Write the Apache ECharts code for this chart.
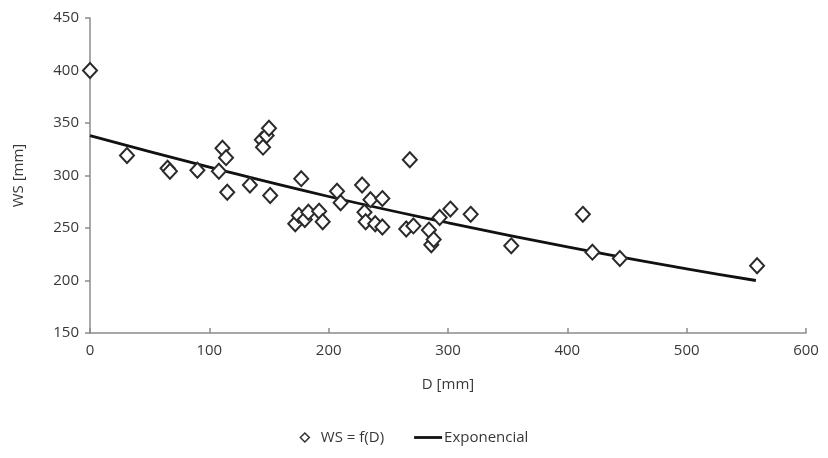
<!DOCTYPE html>
<html>
<head>
<meta charset="utf-8">
<script src="https://cdn.jsdelivr.net/npm/echarts@6/dist/echarts.min.js"></script>
<style>
  html, body { margin: 0; padding: 0; background: #fff; }
  #chart { width: 828px; height: 458px; }
</style>
</head>
<body>
<div id="chart"></div>
<script>
// measured points, WS = f(D)
var dValues = [0, 31, 65, 67, 90, 108, 111, 114, 115, 134, 144, 145, 148, 150, 151,
  172, 175, 177, 180, 183, 192, 195, 207, 210, 228, 230, 231, 235, 239, 245, 245,
  265, 268, 271, 284, 286, 288, 293, 302, 319, 353, 413, 421, 444, 559];
var wsValues = [400, 319, 307, 304, 305, 304, 326, 317, 284, 291, 334, 327, 338, 345, 281,
  254, 262, 297, 258, 265, 266, 256, 285, 274, 291, 265, 256, 277, 254, 278, 251,
  249, 315, 252, 248, 234, 239, 260, 268, 263, 233, 263, 227, 221, 214];

// trend line
var trendD = [0, 100, 200, 300, 400, 500, 558];
var trendWS = [338, 308, 280, 255, 232, 211, 200];

var xTicks = { min: 0, max: 600, interval: 100 };
var yTicks = { min: 150, max: 450, interval: 50 };

var points = dValues.map(function (d, i) { return [d, wsValues[i]]; });
var trend = trendD.map(function (d, i) { return [d, trendWS[i]]; });

var font = 'Open Sans';
var textColor = '#383838';
var axisColor = '#8c8c8c';

var myChart = echarts.init(document.getElementById('chart'));
var option = {
  animation: false,
  backgroundColor: '#fff',
  grid: { left: 90, right: 22, top: 18, bottom: 125 },
  textStyle: { fontFamily: font },
  xAxis: {
    type: 'value',
    min: xTicks.min, max: xTicks.max, interval: xTicks.interval,
    name: 'D [mm]',
    nameLocation: 'middle',
    nameGap: 44,
    nameTextStyle: { color: textColor, fontSize: 15, fontFamily: font },
    axisLine: { lineStyle: { color: axisColor, width: 1.5 } },
    axisTick: { show: true, inside: true, length: 5, lineStyle: { color: axisColor, width: 1.5 } },
    axisLabel: { color: textColor, fontSize: 15, margin: 10 },
    splitLine: { show: false }
  },
  yAxis: {
    type: 'value',
    min: yTicks.min, max: yTicks.max, interval: yTicks.interval,
    name: 'WS [mm]',
    nameLocation: 'middle',
    nameGap: 64,
    nameRotate: 90,
    nameTextStyle: { color: textColor, fontSize: 15, fontFamily: font },
    axisLine: { show: true, lineStyle: { color: axisColor, width: 1.5 } },
    axisTick: { show: true, length: 5, lineStyle: { color: axisColor, width: 1.5 } },
    axisLabel: { color: textColor, fontSize: 15, margin: 11 },
    splitLine: { show: false }
  },
  legend: {
    bottom: 8,
    left: 'center',
    itemGap: 30,
    textStyle: { color: textColor, fontSize: 15, fontFamily: font, padding: [0, 0, 0, -3] },
    itemWidth: 28,
    itemHeight: 9,
    data: [
      { name: 'WS = f(D)', icon: 'path://M5,0L10,5L5,10L0,5Z',
        itemStyle: { color: '#fff', borderColor: '#333', borderWidth: 1.5 } },
      { name: 'Exponencial', icon: 'path://M0,0L30,0L30,3L0,3Z',
        itemStyle: { color: '#111' } }
    ]
  },
  series: [
    {
      name: 'Exponencial',
      type: 'line',
      data: trend,
      smooth: true,
      symbol: 'none',
      lineStyle: { color: '#111', width: 2.8 },
      itemStyle: { color: '#111' },
      z: 1
    },
    {
      name: 'WS = f(D)',
      type: 'scatter',
      data: points,
      symbol: 'diamond',
      symbolSize: [14, 15],
      itemStyle: { color: '#fff', borderColor: '#2a2a2a', borderWidth: 2, opacity: 1 },
      z: 2
    }
  ]
};
myChart.setOption(option);
</script>
</body>
</html>
